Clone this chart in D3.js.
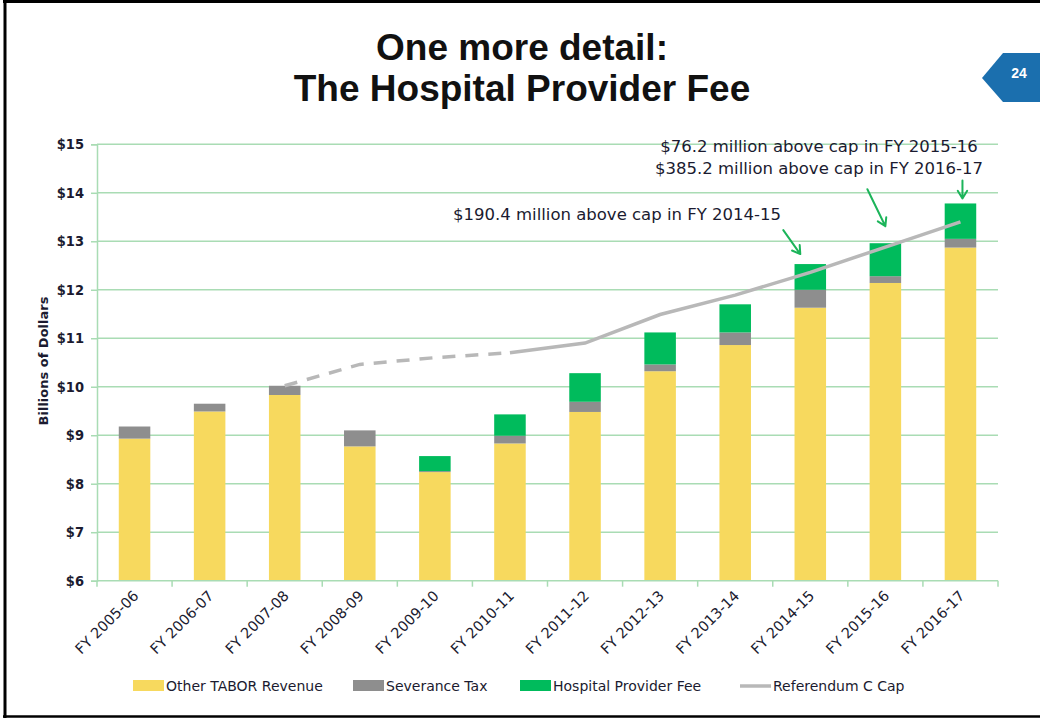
<!DOCTYPE html>
<html>
<head>
<meta charset="utf-8">
<script src="https://cdn.jsdelivr.net/npm/d3@7"></script>
<style>
  body { margin: 0; background: #fff; }
  svg { display: block; }
</style>
</head>
<body>
<svg id="chart" width="1040" height="719"></svg>
<script>
// Data (billions of dollars)
const years = ["FY 2005-06", "FY 2006-07", "FY 2007-08", "FY 2008-09", "FY 2009-10", "FY 2010-11",
               "FY 2011-12", "FY 2012-13", "FY 2013-14", "FY 2014-15", "FY 2015-16", "FY 2016-17"];
const otherTabor   = [8.93, 9.49, 9.83, 8.77, 8.24, 8.83, 9.48, 10.32, 10.86, 11.63, 12.14, 12.87];
const severanceTax = [0.25, 0.16, 0.19, 0.33, 0.02, 0.16, 0.21, 0.14, 0.26, 0.37, 0.14, 0.18];
const hospitalFee  = [0, 0, 0, 0, 0.31, 0.44, 0.59, 0.66, 0.58, 0.53, 0.68, 0.73];
const refCCap      = [null, null, 10.02, 10.46, 10.60, 10.70, 10.90, 11.49, 11.89, 12.36, 12.88, 13.40];
const capDashedEnd = 5; // cap line is dashed up to FY 2010-11

const yTicks = [6, 7, 8, 9, 10, 11, 12, 13, 14, 15];
const seriesNames = ["Other TABOR Revenue", "Severance Tax", "Hospital Provider Fee"];
const seriesKeys = ["other", "severance", "hospital"];
const seriesColors = ["#f7d95e", "#8e8e8e", "#00bb5c"];
const capName = "Referendum C Cap";

// annotations: year index + text lines
const noteLow = { year: 9, lines: ["$190.4 million above cap in FY 2014-15"] };
const noteHigh = { years: [10, 11], lines: ["$76.2 million above cap in FY 2015-16", "$385.2 million above cap in FY 2016-17"] };

const svg = d3.select("#chart");
const textColor = "#1b1b30";
const gridColor = "#a9dcb4";
const arrowColor = "#1cb45a";

// slide frame
svg.append("line").attr("x1", 5).attr("x2", 5).attr("y1", 0).attr("y2", 718)
    .attr("stroke", "#000").attr("stroke-width", 3);
svg.append("line").attr("x1", 3).attr("x2", 1040).attr("y1", 1.5).attr("y2", 1.5)
    .attr("stroke", "#000").attr("stroke-width", 3);
svg.append("line").attr("x1", 3).attr("x2", 1040).attr("y1", 716.5).attr("y2", 716.5)
    .attr("stroke", "#000").attr("stroke-width", 2.5);

// title
const title = svg.append("text")
    .attr("x", 522).attr("text-anchor", "middle")
    .attr("font-family", "Liberation Sans, Arial, sans-serif")
    .attr("font-weight", "bold").attr("font-size", 37).attr("fill", "#111");
title.append("tspan").attr("x", 522).attr("y", 60).text("One more detail:");
title.append("tspan").attr("x", 522).attr("y", 101).text("The Hospital Provider Fee");

// page number badge
svg.append("polygon")
    .attr("points", "982,78 1003,53 1040,53 1040,102 1003,102")
    .attr("fill", "#1b6fae");
svg.append("text").attr("x", 1019).attr("y", 78)
    .attr("text-anchor", "middle")
    .attr("font-family", "Liberation Sans, Arial, sans-serif")
    .attr("font-weight", "bold").attr("font-size", 14).attr("fill", "#fff")
    .text("24");

// scales
const x = d3.scaleBand().domain(years).range([97, 998]).paddingInner(0.58).paddingOuter(0.29);
const y = d3.scaleLinear().domain([6, 15]).range([580.7, 144.3]);
const step = x.step();

// gridlines
svg.append("g").selectAll("line").data(yTicks.slice(1)).enter().append("line")
    .attr("x1", 97).attr("x2", 998)
    .attr("y1", d => y(d)).attr("y2", d => y(d))
    .attr("stroke", gridColor).attr("stroke-width", 1.5);

// y axis
const yAxis = svg.append("g").attr("transform", "translate(97,0)")
    .call(d3.axisLeft(y).tickValues(yTicks).tickSize(6).tickPadding(7).tickFormat(d => "$" + d));
yAxis.select(".domain").attr("stroke", gridColor).attr("stroke-width", 1.5);
yAxis.selectAll(".tick line").attr("stroke", gridColor).attr("stroke-width", 1.5);
yAxis.selectAll(".tick text")
    .attr("font-family", "DejaVu Sans Condensed, DejaVu Sans, sans-serif")
    .attr("font-weight", "bold").attr("font-size", 14.5).attr("fill", textColor);

svg.append("text")
    .attr("transform", "translate(48,361) rotate(-90)")
    .attr("text-anchor", "middle")
    .attr("font-family", "DejaVu Sans, sans-serif")
    .attr("font-weight", "bold").attr("font-size", 13).attr("fill", textColor)
    .text("Billions of Dollars");

// stacked bars
const rows = years.map((yr, i) => ({
    year: yr, other: otherTabor[i], severance: severanceTax[i], hospital: hospitalFee[i]
}));
const stacked = d3.stack().keys(seriesKeys)(rows);

const layers = svg.append("g").selectAll("g").data(stacked).enter().append("g")
    .attr("fill", (d, i) => seriesColors[i]);
// the value axis starts at $6, so clamp the bottom of each segment
layers.selectAll("rect").data(d => d).enter().append("rect")
    .attr("x", d => x(d.data.year))
    .attr("width", x.bandwidth())
    .attr("y", d => y(Math.max(d[1], 6)))
    .attr("height", d => Math.max(0, y(Math.max(d[0], 6)) - y(Math.max(d[1], 6))));

// x axis
const xAxisG = svg.append("g").attr("transform", "translate(0,580.7)");
xAxisG.append("line").attr("x1", 97).attr("x2", 998)
    .attr("stroke", gridColor).attr("stroke-width", 1.5);
xAxisG.selectAll("line.tk").data(d3.range(years.length + 1)).enter().append("line")
    .attr("class", "tk")
    .attr("x1", i => 97 + i * step).attr("x2", i => 97 + i * step)
    .attr("y1", 0).attr("y2", 6)
    .attr("stroke", gridColor).attr("stroke-width", 1.5);
xAxisG.selectAll("text").data(years).enter().append("text")
    .attr("transform", d => `translate(${x(d) + x.bandwidth() / 2 + 5},${16}) rotate(-45)`)
    .attr("text-anchor", "end")
    .attr("font-family", "DejaVu Sans, sans-serif")
    .attr("font-size", 14.5).attr("fill", textColor)
    .text(d => d);

// Referendum C cap line
const capPts = years.map((yr, i) => ({ x: x(yr) + x.bandwidth() / 2, v: refCCap[i], i: i }))
    .filter(d => d.v !== null);
const capLine = d3.line().x(d => d.x).y(d => y(d.v));
svg.append("path").datum(capPts.filter(d => d.i <= capDashedEnd))
    .attr("d", capLine).attr("fill", "none")
    .attr("stroke", "#b8b8b8").attr("stroke-width", 3.5)
    .attr("stroke-dasharray", "13,10");
svg.append("path").datum(capPts.filter(d => d.i >= capDashedEnd))
    .attr("d", capLine).attr("fill", "none")
    .attr("stroke", "#b8b8b8").attr("stroke-width", 3.5);

// annotations
function barTop(i) { return y(otherTabor[i] + severanceTax[i] + hospitalFee[i]); }
function barMid(i) { return x(years[i]) + x.bandwidth() / 2; }

function arrow(x1, y1, x2, y2) {
    const a = Math.atan2(y2 - y1, x2 - x1);
    const h = 9, spread = 0.55;
    svg.append("path")
        .attr("d", `M${x1},${y1}L${x2},${y2}` +
            `M${x2 - h * Math.cos(a - spread)},${y2 - h * Math.sin(a - spread)}L${x2},${y2}` +
            `L${x2 - h * Math.cos(a + spread)},${y2 - h * Math.sin(a + spread)}`)
        .attr("fill", "none").attr("stroke", arrowColor)
        .attr("stroke-width", 2).attr("stroke-linecap", "round").attr("stroke-linejoin", "round");
}

const noteFont = "DejaVu Sans, sans-serif";
svg.append("text").attr("x", 617).attr("y", 220)
    .attr("text-anchor", "middle").attr("font-family", noteFont)
    .attr("font-size", 16.5).attr("fill", textColor)
    .text(noteLow.lines[0]);
arrow(barMid(noteLow.year) - 27, barTop(noteLow.year) - 34, barMid(noteLow.year) - 10, barTop(noteLow.year) - 10);

noteHigh.lines.forEach((t, k) => {
    svg.append("text").attr("x", 819).attr("y", 152 + k * 22)
        .attr("text-anchor", "middle").attr("font-family", noteFont)
        .attr("font-size", 16.5).attr("fill", textColor)
        .text(t);
});
const n1 = noteHigh.years[0], n2 = noteHigh.years[1];
arrow(barMid(n1) - 18, barTop(n1) - 54, barMid(n1), barTop(n1) - 17);
arrow(barMid(n2) + 2, barTop(n2) - 23, barMid(n2) + 2, barTop(n2) - 5);

// legend
const legendX = [133, 353, 520, 740];
const legend = svg.append("g");
seriesNames.forEach((name, i) => {
    legend.append("rect").attr("x", legendX[i]).attr("y", 680)
        .attr("width", 31).attr("height", 11).attr("fill", seriesColors[i]);
    legend.append("text").attr("x", legendX[i] + 33).attr("y", 691)
        .attr("font-family", "DejaVu Sans, sans-serif").attr("font-size", 14)
        .attr("fill", textColor).text(name);
});
legend.append("line").attr("x1", legendX[3]).attr("x2", legendX[3] + 31)
    .attr("y1", 686).attr("y2", 686)
    .attr("stroke", "#b8b8b8").attr("stroke-width", 3.5);
legend.append("text").attr("x", legendX[3] + 33).attr("y", 691)
    .attr("font-family", "DejaVu Sans, sans-serif").attr("font-size", 14)
    .attr("fill", textColor).text(capName);
</script>
</body>
</html>
